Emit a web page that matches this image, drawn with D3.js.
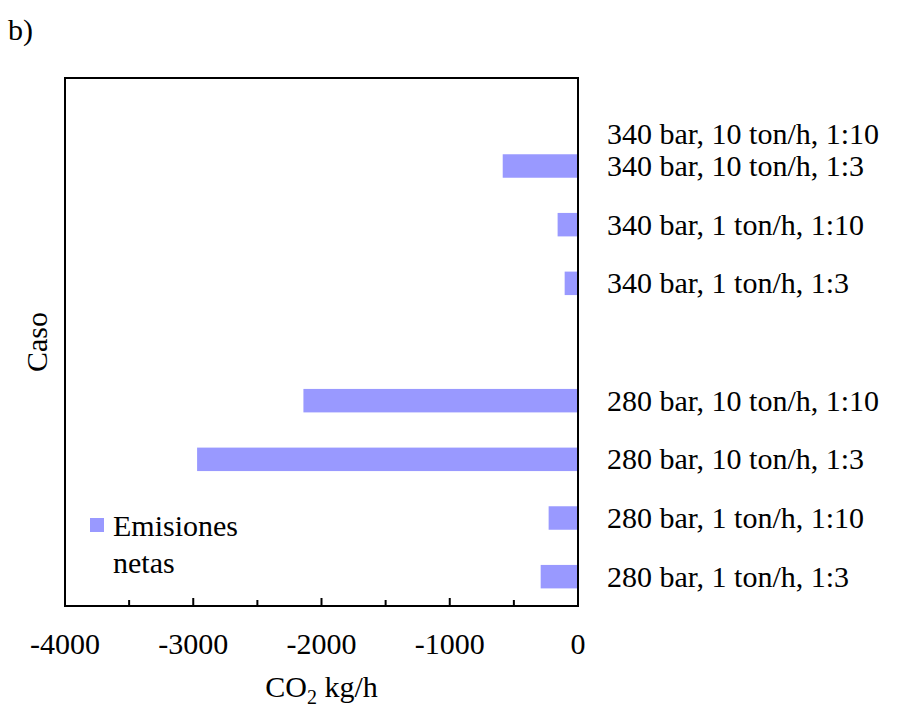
<!DOCTYPE html>
<html>
<head>
<meta charset="utf-8">
<script src="https://cdn.jsdelivr.net/npm/d3@7/dist/d3.min.js"></script>
<style>
  body { margin: 0; background: #fff; font-family: "Liberation Serif"; }
  text, tspan { font-family: "Liberation Serif" !important; }
</style>
</head>
<body>
<div id="chart"></div>
<script>
// cases, bottom to top; the blank slot separates the two pressure groups
const cases = [
  "280 bar, 1 ton/h, 1:3",
  "280 bar, 1 ton/h, 1:10",
  "280 bar, 10 ton/h, 1:3",
  "280 bar, 10 ton/h, 1:10",
  "",
  "340 bar, 1 ton/h, 1:3",
  "340 bar, 1 ton/h, 1:10",
  "340 bar, 10 ton/h, 1:3",
  "340 bar, 10 ton/h, 1:10"
];
const netEmissions = [-291, -229, -2970, -2141, null, -104, -159, -587, null];
const xTicks = [-4000, -3000, -2000, -1000, 0];
const seriesName = ["Emisiones", "netas"];

const width = 902;
const height = 709;
const margin = { top: 78, right: 324, bottom: 103, left: 65 };

const svg = d3.select("#chart")
  .append("svg")
  .attr("width", width)
  .attr("height", height)
  .attr("font-family", "Liberation Serif");

function label(sel) {
  return sel.append("text")
    .attr("font-family", "Liberation Serif")
    .style("font-family", '"Liberation Serif"');
}

const xScale = d3.scaleLinear()
  .domain([-4000, 0])
  .range([margin.left, width - margin.right]);

const keys = cases.map((c, i) => i);
const yScale = d3.scaleBand()
  .domain(keys)
  .range([height - margin.bottom, margin.top])
  .paddingInner(0.6)
  .paddingOuter(0.3);

const bottom = height - margin.bottom;

// bars
svg.selectAll("rect.bar")
  .data(keys.filter(i => netEmissions[i] != null))
  .enter().append("rect")
  .attr("class", "bar")
  .attr("x", i => xScale(netEmissions[i]))
  .attr("y", i => yScale(i))
  .attr("width", i => xScale(0) - xScale(netEmissions[i]))
  .attr("height", yScale.bandwidth())
  .attr("fill", "#9999ff");

// frame
svg.append("rect")
  .attr("x", margin.left)
  .attr("y", margin.top)
  .attr("width", xScale(0) - margin.left)
  .attr("height", bottom - margin.top)
  .attr("fill", "none")
  .attr("stroke", "#000")
  .attr("stroke-width", 2);

// x axis ticks point inward, minor every 500
const minor = d3.range(-3500, 0, 1000);
svg.selectAll("line.major")
  .data(xTicks.slice(1, -1))
  .enter().append("line")
  .attr("x1", d => xScale(d)).attr("x2", d => xScale(d))
  .attr("y1", bottom).attr("y2", bottom - 8)
  .attr("stroke", "#000").attr("stroke-width", 2);
svg.selectAll("line.minor")
  .data(minor)
  .enter().append("line")
  .attr("x1", d => xScale(d)).attr("x2", d => xScale(d))
  .attr("y1", bottom).attr("y2", bottom - 6)
  .attr("stroke", "#000").attr("stroke-width", 2);

xTicks.forEach(d => {
  label(svg)
    .attr("x", xScale(d))
    .attr("y", bottom + 48)
    .attr("text-anchor", "middle")
    .attr("font-size", 30)
    .text(d);
});

// case labels to the right of the plot
keys.filter(i => cases[i] !== "").forEach(i => {
  label(svg)
    .attr("x", xScale(0) + 29)
    // top label sits lower in the original, between its slot and the next
    .attr("y", yScale(i) + yScale.bandwidth() / 2 + 10 + (i === keys.length - 1 ? 27 : 0))
    .attr("font-size", 30)
    .text(cases[i]);
});

// axis titles
const xt = label(svg)
  .attr("x", (margin.left + xScale(0)) / 2)
  .attr("y", 697)
  .attr("text-anchor", "middle")
  .attr("font-size", 30);
xt.append("tspan").text("CO");
xt.append("tspan").attr("font-size", 20).attr("dy", 7).text("2");
xt.append("tspan").attr("dy", -7).text(" kg/h");

label(svg)
  .attr("transform", `translate(47, ${(margin.top + bottom) / 2}) rotate(-90)`)
  .attr("text-anchor", "middle")
  .attr("font-size", 30)
  .text("Caso");

label(svg)
  .attr("x", 8)
  .attr("y", 40)
  .attr("font-size", 30)
  .text("b)");

// legend
const lg = svg.append("g").attr("transform", "translate(90, 518)");
lg.append("rect")
  .attr("width", 14).attr("height", 14)
  .attr("fill", "#9999ff");
seriesName.forEach((d, i) => {
  label(lg)
    .attr("x", 23)
    .attr("y", 18 + i * 37)
    .attr("font-size", 30)
    .text(d);
});
</script>
</body>
</html>
